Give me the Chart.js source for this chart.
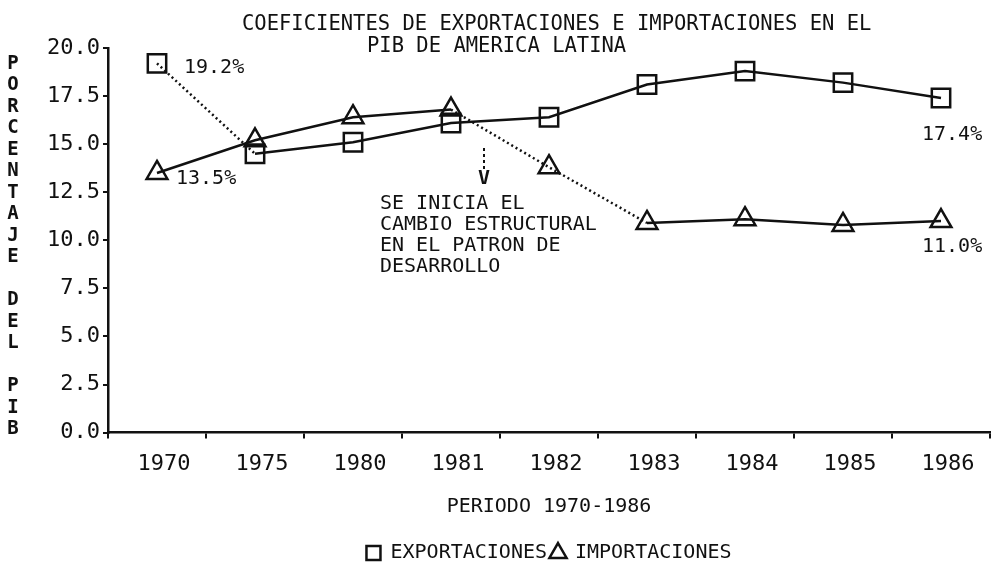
<!DOCTYPE html>
<html>
<head>
<meta charset="utf-8">
<script src="https://cdn.jsdelivr.net/npm/chart.js@4.4.0/dist/chart.umd.min.js"></script>
<style>
  html, body { margin: 0; padding: 0; background: #fff; }
  #wrap { width: 993px; height: 563px; position: relative; }
</style>
</head>
<body>
<div id="wrap"><canvas id="chart"></canvas></div>
<script>
const years = ['1970', '1975', '1980', '1981', '1982', '1983', '1984', '1985', '1986'];
const exportaciones = [19.2, 14.5, 15.1, 16.1, 16.4, 18.1, 18.8, 18.2, 17.4];
const importaciones = [13.5, 15.2, 16.4, 16.8, 13.8, 10.9, 11.1, 10.8, 11.0];
const yTicks = [0, 2.5, 5, 7.5, 10, 12.5, 15, 17.5, 20];
const titleLines = ['COEFICIENTES DE EXPORTACIONES E IMPORTACIONES EN EL', 'PIB DE AMERICA LATINA'];
const yTitleWords = ['PORCENTAJE', 'DEL', 'PIB'];
const xTitle = 'PERIODO 1970-1986';
const noteLines = ['SE INICIA EL', 'CAMBIO ESTRUCTURAL', 'EN EL PATRON DE', 'DESARROLLO'];

const MONO = '"DejaVu Sans Mono", "Liberation Mono", monospace';
const INK = '#111';

// dotted pieces of each line (index of the segment start)
const exportDotted = [0];
const importDotted = [3, 4];

const scanText = {
  id: 'scanText',
  afterDraw(chart) {
    const ctx = chart.ctx;
    const x = chart.scales.x;
    ctx.save();
    ctx.fillStyle = INK;
    ctx.textBaseline = 'alphabetic';
    ctx.textAlign = 'left';

    // title, two lines as in the print-out
    ctx.font = '20.5px ' + MONO;
    ctx.fillText(titleLines[0], 242, 30);
    ctx.fillText(titleLines[1], 367, 52);

    // stacked letters of the y axis title
    ctx.textAlign = 'center';
    ctx.textBaseline = 'middle';
    ctx.font = 'bold 19px ' + MONO;
    let yy = 64;
    yTitleWords.forEach(w => {
      for (const ch of w) {
        ctx.fillText(ch, 13, yy);
        yy += 21.5;
      }
      yy += 21.5;
    });

    // end labels
    const expMeta = chart.getDatasetMeta(0).data;
    const impMeta = chart.getDatasetMeta(1).data;
    const last = years.length - 1;
    const pct = v => v.toFixed(1) + '%';
    ctx.font = '20px ' + MONO;
    ctx.textAlign = 'left';
    ctx.fillText(pct(exportaciones[0]), expMeta[0].x + 27, expMeta[0].y + 4);
    ctx.fillText(pct(importaciones[0]), impMeta[0].x + 19, impMeta[0].y + 6);
    ctx.fillText(pct(exportaciones[last]), expMeta[last].x - 19, expMeta[last].y + 37);
    ctx.fillText(pct(importaciones[last]), impMeta[last].x - 19, impMeta[last].y + 26);

    // arrow pointing at the break after 1981
    const ax = x.getPixelForValue(3) + 33;
    ctx.strokeStyle = INK;
    ctx.lineWidth = 2;
    ctx.setLineDash([3, 3]);
    ctx.beginPath();
    ctx.moveTo(ax, 148);
    ctx.lineTo(ax, 170);
    ctx.stroke();
    ctx.setLineDash([]);
    ctx.textAlign = 'center';
    ctx.font = 'bold 20px ' + MONO;
    ctx.fillText('V', ax, 179);

    ctx.font = '20px ' + MONO;
    ctx.textAlign = 'left';
    noteLines.forEach((t, i) => ctx.fillText(t, 380, 204 + i * 21));
    ctx.restore();
  }
};

new Chart(document.getElementById('chart'), {
  type: 'line',
  data: {
    labels: years,
    datasets: [
      {
        label: 'EXPORTACIONES',
        data: exportaciones,
        borderColor: INK,
        backgroundColor: 'rgba(0,0,0,0)',
        borderWidth: 2.5,
        pointStyle: 'rect',
        pointRadius: 13,
        pointBorderWidth: 2.5,
        pointBorderColor: INK,
        pointBackgroundColor: 'rgba(0,0,0,0)',
        tension: 0,
        segment: {
          borderDash: c => exportDotted.includes(c.p0DataIndex) ? [2, 3] : undefined
        }
      },
      {
        label: 'IMPORTACIONES',
        data: importaciones,
        borderColor: INK,
        backgroundColor: 'rgba(0,0,0,0)',
        borderWidth: 2.5,
        pointStyle: 'triangle',
        pointRadius: 12,
        pointBorderWidth: 2.5,
        pointBorderColor: INK,
        pointBackgroundColor: 'rgba(0,0,0,0)',
        tension: 0,
        segment: {
          borderDash: c => importDotted.includes(c.p0DataIndex) ? [2, 3] : undefined
        }
      }
    ]
  },
  options: {
    responsive: true,
    maintainAspectRatio: false,
    animation: false,
    layout: { autoPadding: false, padding: { top: 48, right: 3, left: 0, bottom: -10 } },
    plugins: {
      title: { display: false },
      tooltip: { enabled: false },
      legend: {
        position: 'bottom',
        fullSize: false,
        labels: {
          usePointStyle: true,
          boxWidth: 14,
          boxHeight: 14,
          padding: 4,
          color: INK,
          font: { family: MONO, size: 20 }
        }
      }
    },
    scales: {
      x: {
        offset: true,
        afterFit: s => { s.paddingLeft = 0; s.paddingRight = 0; },
        grid: { drawOnChartArea: false, drawTicks: true, tickLength: 6, color: INK, lineWidth: 2, offset: true },
        border: { display: true, color: INK, width: 2.5 },
        ticks: { color: INK, font: { family: MONO, size: 22 }, padding: 12, labelOffset: 7, maxRotation: 0 },
        title: { display: true, text: xTitle, color: INK, font: { family: MONO, size: 20 }, padding: { top: 6, bottom: 20 } }
      },
      y: {
        min: 0,
        max: 20,
        afterFit: s => { s.width = 108; },
        afterBuildTicks: s => { s.ticks = yTicks.map(v => ({ value: v })); },
        grid: { drawOnChartArea: false, drawTicks: true, tickLength: 5, color: INK, lineWidth: 2 },
        border: { display: true, color: INK, width: 2.5 },
        ticks: { color: INK, font: { family: MONO, size: 22 }, padding: 3, callback: v => v.toFixed(1) }
      }
    }
  },
  plugins: [scanText]
});
</script>
</body>
</html>
